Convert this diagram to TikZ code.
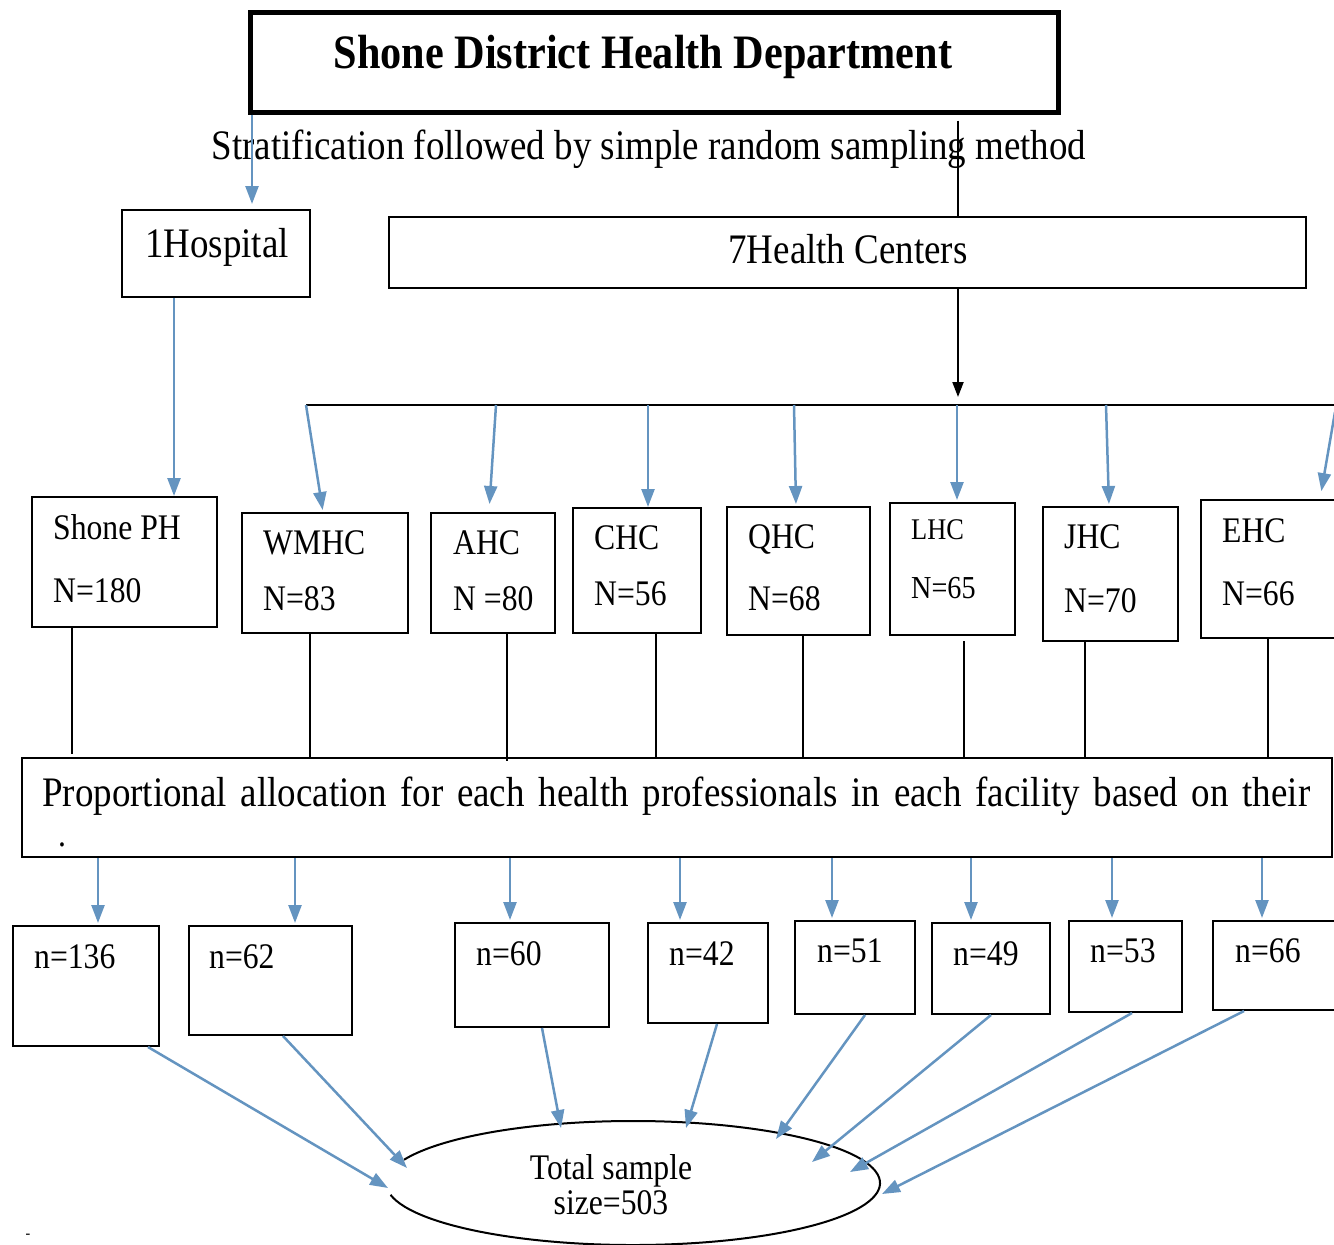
\documentclass[tikz,border=0pt]{standalone}
\usepackage{fontspec}
\setmainfont[FakeStretch=0.88]{Liberation Serif}
\usetikzlibrary{arrows.meta,shapes.geometric,calc}
\definecolor{flowblue}{RGB}{100,148,192}
\newcommand\fsz[1]{\fontsize{#1}{#1}\selectfont}
\begin{document}
\begin{tikzpicture}[x=1pt,y=-1pt,
  box/.style={draw=black, line width=2pt, rectangle, inner sep=0pt},
  lbl/.style={anchor=base west, inner sep=0pt, font=\fsz{36}},
  barrow/.style={draw=flowblue, line width=2.5pt, -{Triangle[length=18pt,width=13pt]}},
  karrow/.style={draw=black, line width=2pt, -{Triangle[length=15pt,width=11pt]}},
  link/.style={draw=black, line width=2pt},
]
\useasboundingbox (0,0) rectangle (1334,1245);
\clip (0,0) rectangle (1334,1245);

% ---------- header ----------
\node[box, line width=5pt, minimum width=808pt, minimum height=100pt] (title) at (654,62) {};
\node[anchor=base, inner sep=0pt, font=\fsz{48}\bfseries] (titlet) at (643,68) {Shone District Health Department};
\node[anchor=base, inner sep=0pt, font=\fsz{42}] (strat) at (649,159) {Stratification followed by simple random sampling method};

% ---------- strata ----------
\node[box, minimum width=188pt, minimum height=87pt] (hosp) at (216,253.5) {};
\node[lbl, font=\fsz{42}] (hospt) at (145,257) {1Hospital};
\node[box, minimum width=917pt, minimum height=71pt] (hc7) at (847.5,252.5) {};
\node[anchor=base, inner sep=0pt, font=\fsz{42}] (hc7t) at (848,263) {7Health Centers};

% ---------- facilities ----------
\node[box, minimum width=185pt, minimum height=130pt] (sph) at (124.5,562) {};
\node[lbl] (spht) at (53,539) {Shone PH};
\node[lbl] (sphn) at (53,602) {N=180};
\node[box, minimum width=166pt, minimum height=120pt] (wm) at (325,573) {};
\node[lbl] (wmt) at (263,554) {WMHC};
\node[lbl] (wmn) at (263,610) {N=83};
\node[box, minimum width=124pt, minimum height=120pt] (ahc) at (493,573) {};
\node[lbl] (ahct) at (453,554) {AHC};
\node[lbl] (ahcn) at (453,610) {N =80};
\node[box, minimum width=128pt, minimum height=125pt] (chc) at (637,570.5) {};
\node[lbl] (chct) at (594,549) {CHC};
\node[lbl] (chcn) at (594,605) {N=56};
\node[box, minimum width=143pt, minimum height=128pt] (qhc) at (798.5,571) {};
\node[lbl] (qhct) at (748,548) {QHC};
\node[lbl] (qhcn) at (748,610) {N=68};
\node[box, minimum width=125pt, minimum height=132pt] (lhc) at (952.5,569) {};
\node[lbl, font=\fsz{30}] (lhct) at (911,539) {LHC};
\node[lbl, font=\fsz{32}] (lhcn) at (911,598) {N=65};
\node[box, minimum width=135pt, minimum height=134pt] (jhc) at (1110.5,574) {};
\node[lbl] (jhct) at (1064,548) {JHC};
\node[lbl] (jhcn) at (1064,612) {N=70};
\node[box, minimum width=136pt, minimum height=138pt] (ehc) at (1269,569) {};
\node[lbl] (ehct) at (1222,542) {EHC};
\node[lbl] (ehcn) at (1222,605) {N=66};

% ---------- allocation ----------
\node[box, minimum width=1310pt, minimum height=99pt] (prop) at (677,807.5) {};
\node[lbl, font=\fsz{42}] (propt) at (42,806) {\makebox[1268pt][s]{Proportional allocation for each health professionals in each facility based on their}};
\node[lbl, font=\fsz{36}] (propd) at (58,846) {.};

% ---------- samples ----------
\node[box, minimum width=146pt, minimum height=120pt] (n1) at (86,986) {};
\node[lbl] (n1t) at (34,968) {n=136};
\node[box, minimum width=163pt, minimum height=109pt] (n2) at (270.5,980.5) {};
\node[lbl] (n2t) at (209,968) {n=62};
\node[box, minimum width=154pt, minimum height=104pt] (n3) at (532,975) {};
\node[lbl] (n3t) at (476,965) {n=60};
\node[box, minimum width=120pt, minimum height=100pt] (n4) at (708,973) {};
\node[lbl] (n4t) at (669,965) {n=42};
\node[box, minimum width=120pt, minimum height=93pt] (n5) at (855,967.5) {};
\node[lbl] (n5t) at (817,962) {n=51};
\node[box, minimum width=118pt, minimum height=91pt] (n6) at (991,968.5) {};
\node[lbl] (n6t) at (953,965) {n=49};
\node[box, minimum width=113pt, minimum height=91pt] (n7) at (1125.5,966.5) {};
\node[lbl] (n7t) at (1090,962) {n=53};
\node[box, minimum width=124pt, minimum height=89pt] (n8) at (1275,965.5) {};
\node[lbl] (n8t) at (1235,962) {n=66};

% ---------- total ----------
\node[ellipse, minimum width=494pt, minimum height=124pt, inner sep=0pt] (tot) at (633,1183) {};
\draw[link] ([shift={(191:247pt and 62pt)}]tot.center)
  arc[start angle=191, end angle=518, x radius=247pt, y radius=62pt];
\node[anchor=base, inner sep=0pt, font=\fsz{36}] (tot1) at (611,1179) {Total sample};
\node[anchor=base, inner sep=0pt, font=\fsz{36}] (tot2) at (611,1214) {size=503};
\node[anchor=base, inner sep=0pt, font=\fsz{16}] (dash) at (28,1238) {-};

% ---------- connectors: header to strata ----------
\coordinate (ta) at ([xshift=-402pt]title.south);
\draw[barrow, shorten >=5pt] (ta) -- (ta |- hosp.north);
\coordinate (tb) at ([xshift=304pt]title.south);
\draw[link, shorten <=6pt] (tb) -- (tb |- hc7.north);

% ---------- strata to facilities ----------
\coordinate (hb) at ([xshift=-42pt]hosp.south);
\draw[barrow] (hb) -- (hb |- sph.north);
\coordinate (cb) at ([xshift=110.5pt]hc7.south);
\coordinate (barL) at (306,405);
\coordinate (barR) at (1340,405);
\draw[karrow, shorten >=8pt] (cb) -- (cb |- barL);
\draw[link] (barL) -- (barR);

\coordinate (b2) at (496,405);
\coordinate (b3) at (648,405);
\coordinate (b4) at (794,405);
\coordinate (b5) at (957,405);
\coordinate (b6) at (1106,405);
\coordinate (b7) at (1335,412);
\draw[barrow, shorten >=2pt] (barL) -- ([xshift=-2pt]wm.north);
\draw[barrow, shorten >=8pt] (b2) -- ([xshift=-4pt]ahc.north);
\draw[barrow] (b3) -- ([xshift=11pt]chc.north);
\draw[barrow, shorten >=2pt] (b4) -- ([xshift=-2.5pt]qhc.north);
\draw[barrow, shorten >=2pt] (b5) -- ([xshift=4.5pt]lhc.north);
\draw[barrow, shorten >=2pt] (b6) -- ([xshift=-1.5pt]jhc.north);
\draw[barrow, shorten >=8pt] (b7) -- ([xshift=51pt]ehc.north);

% ---------- facilities to allocation ----------
\coordinate (d1) at ([xshift=-52.5pt]sph.south);
\coordinate (d2) at ([xshift=-15pt]wm.south);
\coordinate (d3) at ([xshift=14pt]ahc.south);
\coordinate (d4) at ([xshift=19pt]chc.south);
\coordinate (d5) at ([xshift=4.5pt]qhc.south);
\coordinate (d6) at ([xshift=11.5pt]lhc.south);
\coordinate (d7) at ([xshift=-25.5pt]jhc.south);
\coordinate (d8) at ([xshift=-1pt]ehc.south);
\draw[link, shorten >=3pt] (d1) -- (d1 |- prop.north);
\draw[link] (d2) -- (d2 |- prop.north);
\draw[link, shorten >=-4pt] (d3) -- (d3 |- prop.north);
\draw[link] (d4) -- (d4 |- prop.north);
\draw[link] (d5) -- (d5 |- prop.north);
\draw[link, shorten <=5pt] (d6) -- (d6 |- prop.north);
\draw[link] (d7) -- (d7 |- prop.north);
\draw[link] (d8) -- (d8 |- prop.north);

% ---------- allocation to samples ----------
\coordinate (q1) at ([xshift=12pt]n1.north);
\coordinate (q2) at ([xshift=24.5pt]n2.north);
\coordinate (q3) at ([xshift=-22pt]n3.north);
\coordinate (q4) at ([xshift=-28pt]n4.north);
\coordinate (q5) at ([xshift=-23pt]n5.north);
\coordinate (q6) at ([xshift=-20pt]n6.north);
\coordinate (q7) at ([xshift=-13.5pt]n7.north);
\coordinate (q8) at ([xshift=-13pt]n8.north);
\foreach \k in {1,...,8}{
  \draw[barrow, shorten >=2pt] (q\k |- prop.south) -- (q\k);
}

% ---------- samples to total ----------
\coordinate (e1) at (388,1188);
\coordinate (e2) at (407,1168);
\coordinate (e3) at (561,1128);
\coordinate (e4) at (686,1128);
\coordinate (e5) at (776,1139);
\coordinate (e6) at (812,1162);
\coordinate (e7) at (850,1172);
\coordinate (e8) at (882,1194);
\draw[barrow] ([xshift=62pt]n1.south) -- (e1);
\draw[barrow] ([xshift=12.5pt]n2.south) -- (e2);
\draw[barrow] ([xshift=10pt]n3.south) -- (e3);
\draw[barrow] ([xshift=9pt]n4.south) -- (e4);
\draw[barrow] ([xshift=10pt]n5.south) -- (e5);
\draw[barrow] (n6.south) -- (e6);
\draw[barrow] ([xshift=6.5pt]n7.south) -- (e7);
\draw[barrow] ([xshift=-31pt]n8.south) -- (e8);
\end{tikzpicture}
\end{document}
